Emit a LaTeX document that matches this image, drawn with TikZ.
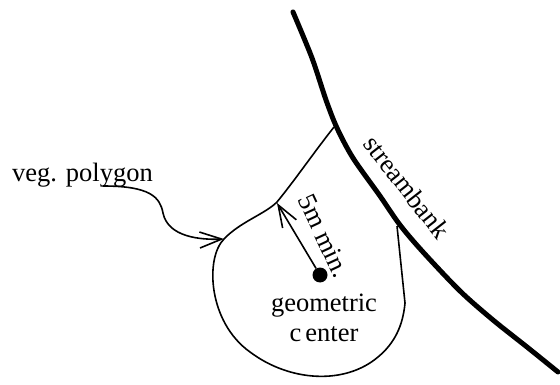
\documentclass[tikz,border=0pt]{standalone}
\usepackage{fontspec}
\setmainfont{Liberation Serif}
\usetikzlibrary{arrows.meta}
\begin{document}
\begin{tikzpicture}[x=1pt,y=-1pt,
  lbl/.style={inner sep=0pt,font=\fontsize{26.5}{30}\selectfont},
  bank/.style={line width=5pt,line cap=round,line join=round},
  poly/.style={line width=1.6pt,line join=round},
  pointer/.style={line width=1.6pt,-{Straight Barb[length=22pt,width=16pt,line width=1.6pt]}}]
\useasboundingbox (0,0) rectangle (560,385);
% streambank
\draw[bank] plot[smooth,tension=0.5] coordinates {(293,12) (312,58) (326,100) (337,128) (353,158) (380,196) (400,225) (423,252) (460,291) (493,320) (527,347) (558,372)};
% vegetation polygon
\coordinate (ptop) at (334,127);
\coordinate (pbot) at (397,226);
\coordinate (pleft) at (224,239);
\draw[poly] (ptop) .. controls (312,155) and (295,180) .. (277,202)
  .. controls (265,214) and (240,222) .. (pleft)
  .. controls (205,258) and (208,322) .. (250,352)
  .. controls (290,382) and (345,385) .. (378,357)
  .. controls (395,343) and (403,325) .. (405,303) -- (pbot);
% geometric center
\node[circle,fill=black,inner sep=0pt,minimum size=15pt] (dot) at (320,275) {};
\coordinate (tip) at (277,203);
\draw[pointer] (dot) -- (tip);
% labels
\node[lbl,rotate=-65] (min) at (324,236) {5m min.};
\node[lbl,rotate=-52] (bank) at (407,187) {streambank};
\node[lbl,align=center] (gc) at (324,318) {geometric\\c\kern4pt enter};
\node[lbl,anchor=base west] (veg) at (12,182) {veg. polygon};
\coordinate (vegstart) at (103,186);
\draw[pointer] (vegstart) .. controls (150,186) and (160,197) .. (163,213)
  .. controls (168,237) and (200,240) .. (pleft);
\end{tikzpicture}
\end{document}
